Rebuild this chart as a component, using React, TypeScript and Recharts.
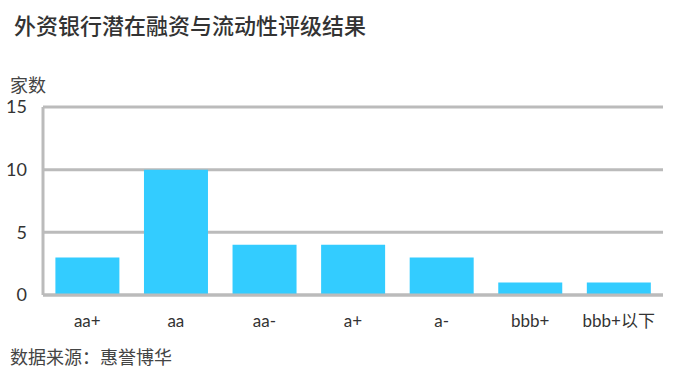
import { Bar, BarChart, CartesianGrid, XAxis, YAxis } from "recharts";

const ratings = ["aa+", "aa", "aa-", "a+", "a-", "bbb+", "bbb+以下"];
const counts = [3, 10, 4, 4, 3, 1, 1];
const yTicks = [0, 5, 10, 15];

const data = ratings.map((name, i) => ({ name, value: counts[i] }));

const FONT = "Lato, 'Noto Sans CJK SC', sans-serif";

export default function App() {
  return (
    <div
      style={{
        position: "absolute",
        left: 0,
        top: 0,
        width: 682,
        height: 389,
        background: "#fff",
        fontFamily: FONT,
      }}
    >
      <div style={{ position: "absolute", left: 14, top: 8, fontSize: 22, fontWeight: 500, color: "#333" }}>
        外资银行潜在融资与流动性评级结果
      </div>
      <div style={{ position: "absolute", left: 10, top: 71, fontSize: 18, color: "#444" }}>家数</div>
      <div style={{ position: "absolute", left: 10, top: 343, fontSize: 18, color: "#444" }}>
        数据来源：惠誉博华
      </div>
      <div style={{ position: "absolute", left: 0, top: 0 }}>
        <BarChart
          width={682}
          height={340}
          data={data}
          margin={{ top: 107, right: 19, bottom: 15, left: 0 }}
          barCategoryGap="14%"
        >
          <CartesianGrid vertical={false} stroke="#bbb" strokeWidth={3} />
          <XAxis
            dataKey="name"
            axisLine={{ stroke: "#bbb", strokeWidth: 3 }}
            tickLine={false}
            tickMargin={14}
            height={30}
            tick={{ fill: "#333", fontSize: 17, fontFamily: FONT }}
            interval={0}
          />
          <YAxis
            width={43}
            domain={[0, 15]}
            ticks={yTicks}
            axisLine={{ stroke: "#bbb", strokeWidth: 3 }}
            tickLine={false}
            tickMargin={10}
            tick={{ fill: "#333", fontSize: 18, fontFamily: FONT }}
          />
          <Bar dataKey="value" fill="#33ccff" isAnimationActive={false} />
        </BarChart>
      </div>
    </div>
  );
}
